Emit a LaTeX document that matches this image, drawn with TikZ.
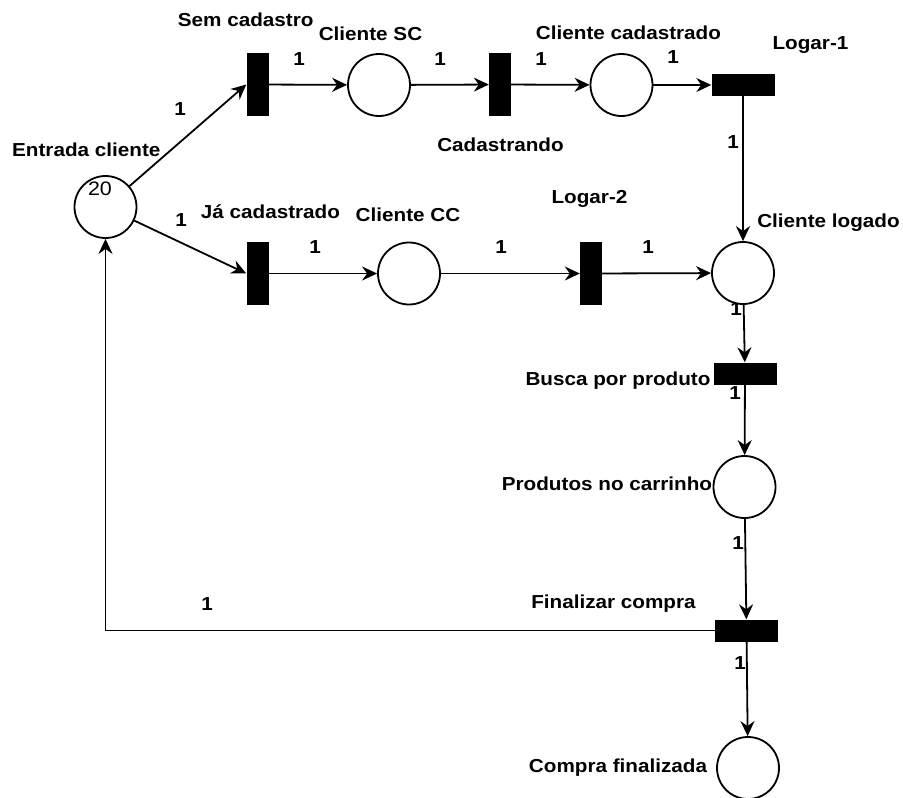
\documentclass[tikz,border=0pt]{standalone}
\usepackage{fontspec}
\newfontfamily\lblfont[FakeStretch=1.1]{Liberation Sans}
\usetikzlibrary{arrows.meta}
\pgfdeclarelayer{bg}
\pgfsetlayers{bg,main}

\begin{document}
\begin{tikzpicture}[x=1pt,y=-1pt,
  place/.style={circle,draw,line width=1.8pt,fill=white,minimum size=62pt,inner sep=0pt},
  vtrans/.style={rectangle,fill=black,minimum width=22pt,minimum height=63pt,inner sep=0pt},
  htrans/.style={rectangle,fill=black,minimum width=63pt,minimum height=22pt,inner sep=0pt},
  lbl/.style={font=\lblfont\bfseries\fontsize{18.8}{20}\selectfont,inner sep=0pt,
              text height=13.4pt,text depth=0pt,anchor=center},
  arc/.style={line width=1.8pt,-{Stealth[length=15pt,width=14pt,inset=5pt]}}
]
\useasboundingbox (0,0) rectangle (903,798);

% places
\node[place] (entrada)  at (105.5,207) {};
\node[place] (sc)       at (379,85) {};
\node[place] (ccad)     at (621.5,85) {};
\node[place] (cc)       at (409,273.5) {};
\node[place] (logado)   at (743,273) {};
\node[place] (produtos) at (744.5,487) {};
\node[place] (compra)   at (748,768) {};

% tokens
\node[font=\lblfont\fontsize{19.5}{20}\selectfont,inner sep=0pt] (tok) at (100,189) {20};

% transitions
\node[vtrans] (semcad)    at (257.5,84.5) {};
\node[vtrans] (cadastr)   at (500,84.5) {};
\node[htrans] (logar1)    at (743,85) {};
\node[vtrans] (jacad)     at (257.5,273.5) {};
\node[vtrans] (logar2)    at (591,273.5) {};
\node[htrans] (busca)     at (745,373.5) {};
\node[htrans] (finalizar) at (746.5,630.5) {};

% place and transition names
\node[lbl] (tEntrada)   at (86.3,150)    {Entrada cliente};
\node[lbl] (tSemcad)    at (245.7,19.3)  {Sem cadastro};
\node[lbl] (tSc)        at (370.5,33.3)  {Cliente SC};
\node[lbl] (tCcad)      at (628.5,33)    {Cliente cadastrado};
\node[lbl] (tLogar1)    at (810.5,43)    {Logar-1};
\node[lbl] (tCadastr)   at (500.5,144.5) {Cadastrando};
\node[lbl] (tJacad)     at (270.5,211.7) {Já cadastrado};
\node[lbl] (tCc)        at (408,214.5)   {Cliente CC};
\node[lbl] (tLogar2)    at (589.5,197)   {Logar-2};
\node[lbl] (tLogado)    at (828.5,221)   {Cliente logado};
\node[lbl] (tBusca)     at (618,378.8)   {Busca por produto};
\node[lbl] (tProdutos)  at (607,483.7)   {Produtos no carrinho};
\node[lbl] (tFinalizar) at (613.5,601.7) {Finalizar compra};
\node[lbl] (tCompra)    at (618,765.7)   {Compra finalizada};

% arc weights
\begin{pgfonlayer}{bg}
\node[lbl] (w1)  at (180,109) {1};
\node[lbl] (w2)  at (181,220) {1};
\node[lbl] (w3)  at (299,59)  {1};
\node[lbl] (w4)  at (440,59)  {1};
\node[lbl] (w5)  at (541,59)  {1};
\node[lbl] (w6)  at (673,57)  {1};
\node[lbl] (w7)  at (733,142) {1};
\node[lbl] (w8)  at (315,247) {1};
\node[lbl] (w9)  at (501,247) {1};
\node[lbl] (w10) at (648,247) {1};
\node[lbl] (w11) at (736,309) {1};
\node[lbl] (w12) at (735,393) {1};
\node[lbl] (w13) at (738,543) {1};
\node[lbl] (w14) at (207,604) {1};
\node[lbl] (w15) at (740,663) {1};
\end{pgfonlayer}

% arcs
\draw[arc] (entrada) -- (semcad.west);
\draw[arc] (entrada) -- (jacad.west);
\draw[arc] (semcad) -- (sc);
\draw[arc] (sc) -- (cadastr);
\draw[arc] (cadastr) -- (ccad);
\draw[arc] (ccad) -- (logar1);
\draw[arc] (logar1) -- (logado);
\draw[arc] (jacad) -- (cc);
\draw[arc] (cc) -- (logar2);
\draw[arc] (logar2) -- (logado);
\draw[arc] (logado) -- (busca);
\draw[arc] (busca) -- (produtos);
\draw[arc] (produtos) -- (finalizar);
\draw[arc] (finalizar.west) -| (entrada.south);
\draw[arc] (finalizar) -- (compra);
\end{tikzpicture}
\end{document}
